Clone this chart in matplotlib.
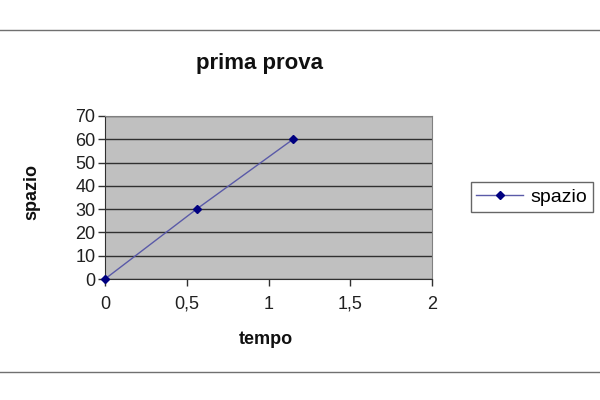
import matplotlib
matplotlib.use('Agg')
import matplotlib.pyplot as plt
from matplotlib.ticker import FuncFormatter
from matplotlib.lines import Line2D

# data
tempo = [0, 0.56, 1.15]
spazio = [0, 30, 60]
x_ticks = [0, 0.5, 1, 1.5, 2]
y_ticks = [0, 10, 20, 30, 40, 50, 60, 70]

plt.rcParams['font.family'] = ['Liberation Sans', 'DejaVu Sans']

fig = plt.figure(figsize=(6, 4), dpi=100)
W, H = 600, 400

# plot area in pixels: left 105, right 432, top 116, bottom 279
ax = fig.add_axes([105 / W, 1 - 279 / H, (432 - 105) / W, (279 - 116) / H])
ax.set_facecolor('#c0c0c0')
ax.set_xlim(0, 2)
ax.set_ylim(0, 70)
ax.set_xticks(x_ticks)
ax.set_yticks(y_ticks)
ax.xaxis.set_major_formatter(FuncFormatter(lambda v, p: ('%g' % v).replace('.', ',')))
ax.yaxis.grid(True, color='#303030', linewidth=1)
ax.set_axisbelow(True)

for s in ['top', 'right']:
    ax.spines[s].set_color('#808080')
ax.spines['left'].set_color('#303030')
ax.spines['bottom'].set_color('#303030')
ax.tick_params(axis='both', length=5, width=1, color='#303030', labelsize=13, colors='#202020')
ax.tick_params(axis='x', pad=7)
ax.tick_params(axis='y', pad=2)

ax.plot(tempo, spazio, color='#5a5aa8', linewidth=1, marker='D', markersize=4,
        markerfacecolor='#000080', markeredgecolor='#000080', clip_on=False, zorder=5)

fig.text(260 / W, 1 - 63 / H, 'prima prova', ha='center', va='center',
         fontsize=16, fontweight='bold', color='#101010')
fig.text(266 / W, 1 - 340 / H, 'tempo', ha='center', va='center',
         fontsize=13, fontweight='bold', color='#101010')
fig.text(32 / W, 1 - 192 / H, 'spazio', ha='center', va='center', rotation=90,
         fontsize=13, fontweight='bold', color='#101010')

# legend box
leg_handle = Line2D([], [], color='#5a5aa8', linewidth=1, marker='D', markersize=4,
                    markerfacecolor='#000080', markeredgecolor='#000080')
leg = fig.legend([leg_handle], ['spazio'], loc='center', bbox_to_anchor=(532 / W, 1 - 197 / H),
                 fontsize=14, frameon=True, fancybox=False, handlelength=2.4,
                 borderpad=0.3, handletextpad=0.4)
leg.get_frame().set_edgecolor('#404040')
leg.get_frame().set_linewidth(1)

# separator lines across the whole picture
for yy in [30, 372]:
    fig.add_artist(Line2D([0, 1], [1 - yy / H, 1 - yy / H], color='#707070', linewidth=1))

fig.savefig('out.png', dpi=100)
